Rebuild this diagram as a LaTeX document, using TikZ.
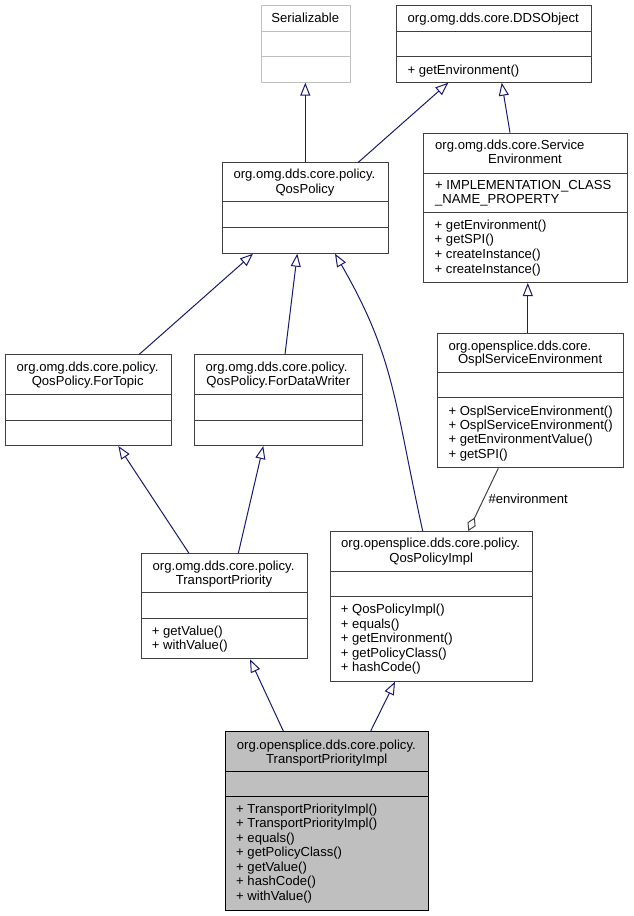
\documentclass[tikz,border=0pt]{standalone}
\usepackage{fontspec}
\setmainfont{Liberation Sans}
\usetikzlibrary{arrows.meta}
\definecolor{edgeblue}{HTML}{191970}
\definecolor{boxgray}{HTML}{404040}
\definecolor{extgray}{HTML}{BFBFBF}
\definecolor{curfill}{HTML}{BFBFBF}
\newcommand\dfont{\fontsize{13.1}{14.4}\selectfont}
\newcommand\clsbox[6][]{\node[cls,#1,minimum width={#4-#2},minimum height={#5-#3}] (#6) at (#2,#3) {};}
\newcommand\divln[2]{\draw[divline] (#1.west |- 0,#2) -- (#1.east |- 0,#2);}
\tikzset{
  cls/.style={draw=boxgray,fill=white,line width=1pt,inner sep=0pt,anchor=north west},
  divline/.style={draw=boxgray,line width=1pt},
  txt/.style={font=\dfont,inner sep=0pt,text height=11pt,text depth=1pt},
  ttl/.style={txt,anchor=center},
  ttlw/.style={txt,anchor=west},
  mem/.style={txt,anchor=west},
  inh/.style={draw=edgeblue,line width=1pt,-{Triangle[open,length=13pt,width=10pt,line width=1pt]}},
  agg/.style={draw=boxgray,line width=1pt,-{Diamond[open,length=15pt,width=9pt,line width=1pt]}},
}
\begin{document}
\begin{tikzpicture}[x=1pt,y=-1pt]
\useasboundingbox (0,0) rectangle (633,916);
% ---- boxes
\clsbox[draw=extgray]{260.7}{5}{350}{81.7}{ser}
\draw[divline,draw=extgray] (ser.west |- 0,31) -- (ser.east |- 0,31);
\draw[divline,draw=extgray] (ser.west |- 0,56.7) -- (ser.east |- 0,56.7);
\clsbox{395.7}{5}{590.7}{81.7}{dds}
\divln{dds}{31.3}\divln{dds}{56.7}
\clsbox{222.3}{162.3}{387.7}{252.7}{qp}
\divln{qp}{201.7}\divln{qp}{227.7}
\clsbox{422.7}{132.7}{627.3}{282}{se}
\divln{se}{173}\divln{se}{212.3}
\clsbox{4.7}{354.3}{170.7}{445}{ft}
\divln{ft}{394.3}\divln{ft}{420}
\clsbox{194.3}{354.3}{362.3}{445}{fdw}
\divln{fdw}{394.3}\divln{fdw}{420}
\clsbox{437.3}{332.7}{623}{467.3}{ospl}
\divln{ospl}{372.7}\divln{ospl}{397.7}
\clsbox{141.3}{553.3}{306.7}{658.3}{tp}
\divln{tp}{592.7}\divln{tp}{618.3}
\clsbox{330}{531}{532.4}{680.7}{qpi}
\divln{qpi}{571}\divln{qpi}{596.7}
\clsbox[draw=black,fill=curfill]{225}{731}{428.3}{910}{tpi}
\draw[divline,draw=black] (tpi.west |- 0,771) -- (tpi.east |- 0,771);
\draw[divline,draw=black] (tpi.west |- 0,796.7) -- (tpi.east |- 0,796.7);
% ---- texts
\node[ttl] (ser-t) at (305.3,17.5) {Serializable};
\node[ttl] (dds-t) at (493.2,17.5) {org.omg.dds.core.DDSObject};
\node[mem] (dds-m) at (407.3,69) {+ getEnvironment()};
\node[ttlw] (qp-t1) at (233.3,173.5) {org.omg.dds.core.policy.};
\node[ttl] (qp-t2) at (305,188) {QosPolicy};
\node[ttlw] (se-t1) at (435,144.5) {org.omg.dds.core.Service};
\node[ttl] (se-t2) at (525,158.5) {Environment};
\node[mem] (se-a1) at (435,184.3) {+ IMPLEMENTATION\_CLASS};
\node[mem] (se-a2) at (435,198.5) {\_NAME\_PROPERTY};
\foreach \t [count=\i] in {+ getEnvironment(),+ getSPI(),+ createInstance(),+ createInstance()}
  \node[mem] (se-m\i) at (434.5,{224.3+(\i-1)*14.6}) {\t};
\node[ttlw] (ft-t1) at (16.5,366.7) {org.omg.dds.core.policy.};
\node[ttl] (ft-t2) at (87.7,380.7) {QosPolicy.ForTopic};
\node[ttlw] (fdw-t1) at (205.5,366.7) {org.omg.dds.core.policy.};
\node[ttl] (fdw-t2) at (278.3,380.7) {QosPolicy.ForDataWriter};
\node[ttlw] (ospl-t1) at (448.3,345) {org.opensplice.dds.core.};
\node[ttl] (ospl-t2) at (530.1,358.5) {OsplServiceEnvironment};
\foreach \t [count=\i] in {+ OsplServiceEnvironment(),+ OsplServiceEnvironment(),+ getEnvironmentValue(),+ getSPI()}
  \node[mem] (ospl-m\i) at (448.3,{410+(\i-1)*14.45}) {\t};
\node[ttlw] (tp-t1) at (152.5,565.2) {org.omg.dds.core.policy.};
\node[ttl] (tp-t2) at (224,579.5) {TransportPriority};
\node[mem] (tp-m1) at (151.7,630.7) {+ getValue()};
\node[mem] (tp-m2) at (151.7,644.5) {+ withValue()};
\node[ttlw] (qpi-t1) at (341,542.9) {org.opensplice.dds.core.policy.};
\node[ttl] (qpi-t2) at (431.2,557.2) {QosPolicyImpl};
\foreach \t [count=\i] in {+ QosPolicyImpl(),+ equals(),+ getEnvironment(),+ getPolicyClass(),+ hashCode()}
  \node[mem] (qpi-m\i) at (340.7,{608.7+(\i-1)*14.5}) {\t};
\node[ttlw] (tpi-t1) at (236.7,744.5) {org.opensplice.dds.core.policy.};
\node[ttl] (tpi-t2) at (326.7,758.6) {TransportPriorityImpl};
\foreach \t [count=\i] in {+ TransportPriorityImpl(),+ TransportPriorityImpl(),+ equals(),+ getPolicyClass(),+ getValue(),+ hashCode(),+ withValue()}
  \node[mem] (tpi-m\i) at (236,{808.3+(\i-1)*14.45}) {\t};
% ---- connectors
\draw[inh] (qp.north -| 305.3,0) -- (ser.south -| 305.3,0);
\draw[inh] (qp.north -| 358.3,0) -- (dds.south -| 448.3,0);
\draw[inh] (se.north -| 510,0) -- (dds.south -| 501.7,0);
\draw[inh] (ft.north -| 139.3,0) -- (qp.south -| 253,0);
\draw[inh] (fdw.north -| 285,0) -- (qp.south -| 297.3,0);
\draw[inh] (qpi.north -| 422.7,0) .. controls (394.1,401) and (394.9,357.7) .. (qp.south -| 335,0);
\draw[inh] (ospl.north -| 527.8,0) -- (se.south -| 527.8,0);
\draw[inh] (tp.north -| 189,0) -- (ft.south -| 118.3,0);
\draw[inh] (tp.north -| 238.3,0) -- (fdw.south -| 263.3,0);
\draw[inh] (tpi.north -| 283.3,0) -- (tp.south -| 250,0);
\draw[inh] (tpi.north -| 370.7,0) -- (qpi.south -| 395,0);
\draw[agg] (ospl.south -| 498.3,0) -- (qpi.north -| 468.3,0);
\node[mem] (envlbl) at (488.3,498.5) {\#environment};
\end{tikzpicture}
\end{document}
